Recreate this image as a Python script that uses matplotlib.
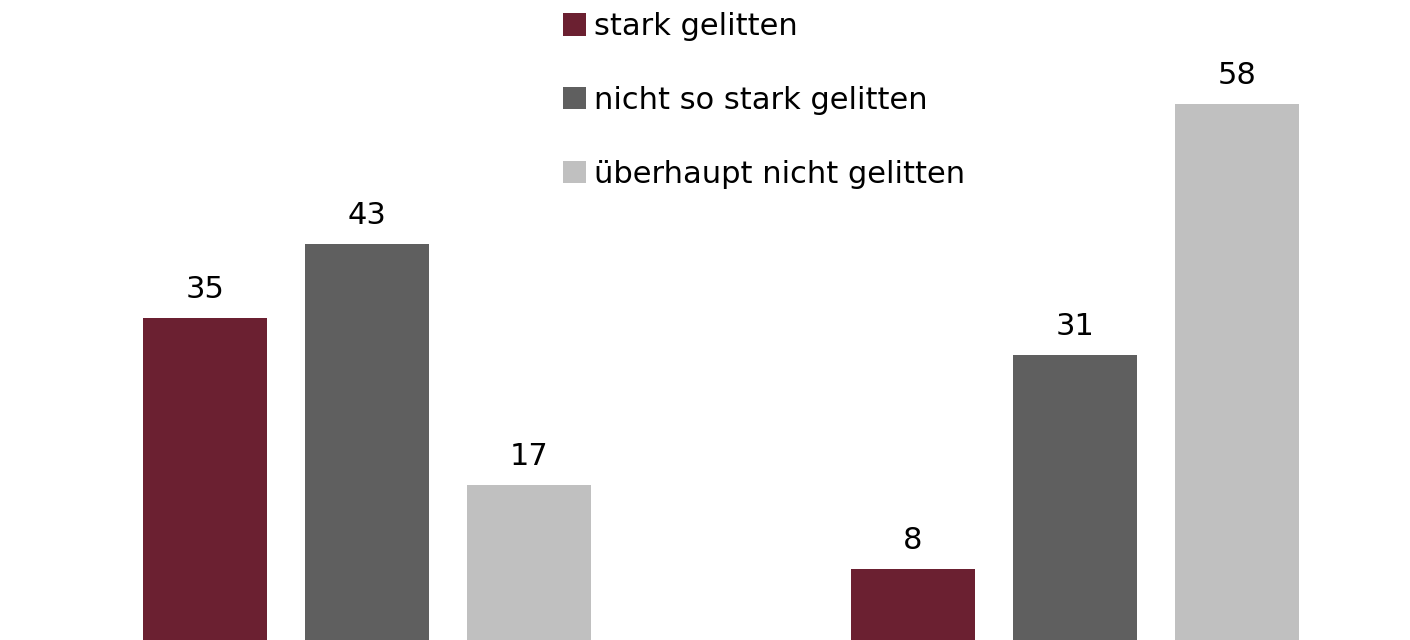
import matplotlib.pyplot as plt
import numpy as np

groups = ["Gruppe 1", "Gruppe 2"]
series = ["stark gelitten", "nicht so stark gelitten", "überhaupt nicht gelitten"]
values = {
    "stark gelitten": [35, 8],
    "nicht so stark gelitten": [43, 31],
    "überhaupt nicht gelitten": [17, 58],
}
colors = ["#6b2031", "#5f5f5f", "#c0c0c0"]

W, H = 1410, 640
fig = plt.figure(figsize=(W / 100, H / 100), dpi=100)
ax = fig.add_axes([0, 0, 1, 1])

x = np.arange(len(groups))
step = 0.2288
width = 0.175

for i, (name, col) in enumerate(zip(series, colors)):
    pos = x + (i - 1) * step
    bars = ax.bar(pos, values[name], width=width, color=col, label=name)
    for b, v in zip(bars, values[name]):
        ax.text(b.get_x() + b.get_width() / 2, v + 1.5, str(v),
                ha="center", va="bottom", fontsize=22, color="#000000")

ax.set_xlim(-0.518, 1.473)
ax.set_ylim(0.37, 69.2)
ax.axis("off")

ax.legend(loc="upper left", bbox_to_anchor=(563 / W, 1 - 12 / H),
          bbox_transform=fig.transFigure, frameon=False, fontsize=22,
          handlelength=0.75, handleheight=0.75, handletextpad=0.27,
          labelspacing=1.47, borderpad=0, borderaxespad=0)

fig.savefig("out.png", dpi=100)
